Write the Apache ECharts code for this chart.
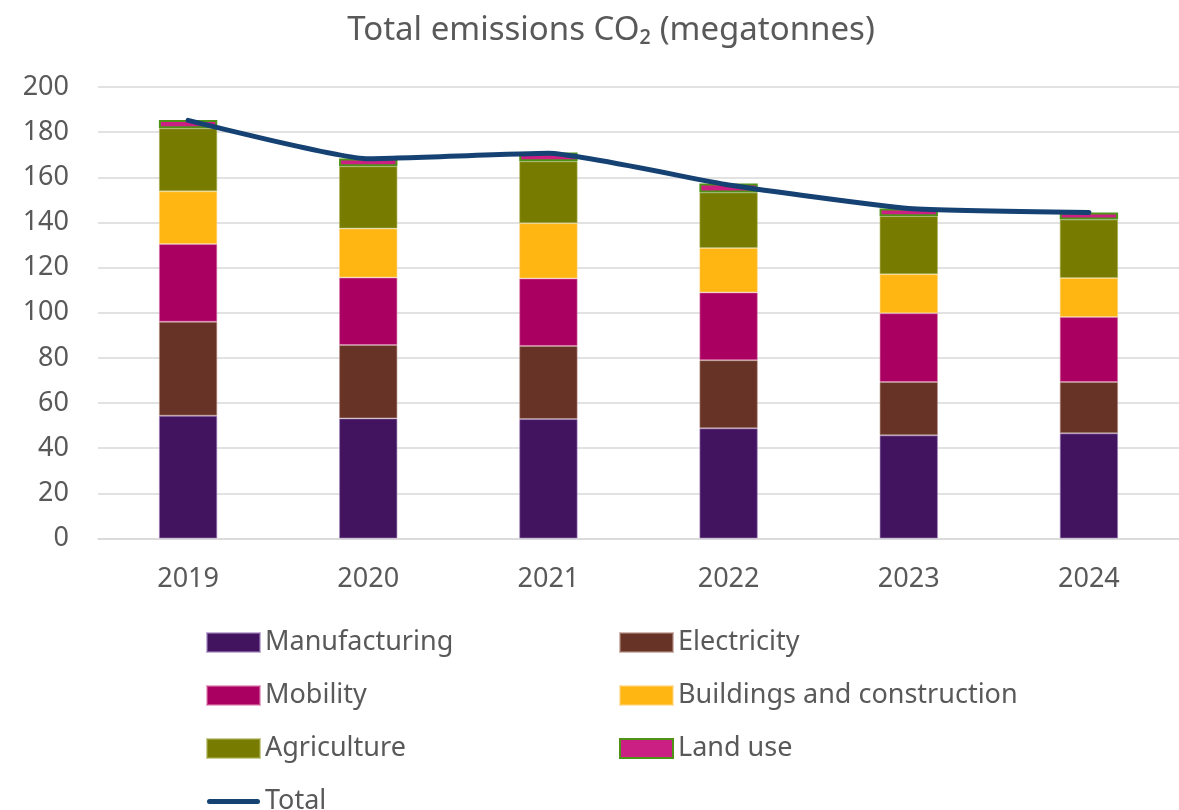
<!DOCTYPE html>
<html>
<head>
<meta charset="utf-8">
<script src="https://cdn.jsdelivr.net/npm/echarts@6/dist/echarts.min.js"></script>
<style>
html,body{margin:0;padding:0;background:#fff;}
#chart{width:1179px;height:810px;}
</style>
</head>
<body>
<div id="chart"></div>
<script>
var years = ['2019', '2020', '2021', '2022', '2023', '2024'];
var manufacturing = [54.4, 53.2, 52.9, 48.8, 45.7, 46.6];
var electricity   = [41.6, 32.5, 32.4, 30.2, 23.6, 22.7];
var mobility      = [34.4, 29.9, 29.9, 30.0, 30.5, 28.8];
var buildings     = [23.4, 21.7, 24.5, 19.7, 17.3, 17.3];
var agriculture   = [27.9, 27.6, 27.4, 24.6, 25.7, 25.9];
var landUse       = [3.7, 3.4, 3.9, 3.9, 3.4, 3.1];
var total         = [185.2, 168.2, 170.6, 156.6, 146.2, 144.4];
var yTicks = [0, 20, 40, 60, 80, 100, 120, 140, 160, 180, 200];

var FONT = 'Noto Sans';
var TXT = '#595959';
var LINE_ICON = 'path://M2.5,0 L50.5,0 A2.5,2.5 0 0 1 50.5,5 L2.5,5 A2.5,2.5 0 0 1 2.5,0 Z';

function barSeries(name, data, color, border, bw) {
  return {
    name: name, type: 'bar', stack: 'co2', data: data,
    barWidth: '32.4%',
    itemStyle: { color: color, borderColor: border, borderWidth: bw },
    emphasis: { disabled: true }
  };
}

var legendCommon = {
  orient: 'vertical', top: 624, itemGap: 26, height: 220,
  itemWidth: 53, itemHeight: 19, icon: 'rect',
  symbolKeepAspect: true,
  textStyle: { fontFamily: FONT, fontSize: 27, color: TXT },
  selectedMode: false
};

var chart = echarts.init(document.getElementById('chart'));
chart.setOption({
  animation: false,
  backgroundColor: '#fff',
  title: {
    text: 'Total emissions CO\u2082 (megatonnes)',
    left: 606, top: 9, textAlign: 'center',
    textStyle: { fontFamily: FONT, fontSize: 33, fontWeight: 'normal', color: TXT }
  },
  grid: { left: 98, top: 87, width: 1092, height: 451.5 },
  xAxis: {
    type: 'category', data: years,
    axisTick: { show: false },
    axisLine: { lineStyle: { color: '#d9d9d9', width: 1.5 } },
    axisLabel: { fontFamily: FONT, fontSize: 27, color: TXT, margin: 27 }
  },
  yAxis: {
    type: 'value', min: yTicks[0], max: yTicks[yTicks.length - 1], interval: yTicks[1] - yTicks[0],
    axisLine: { show: false }, axisTick: { show: false },
    splitLine: { lineStyle: { color: '#d9d9d9', width: 1.5 } },
    axisLabel: { fontFamily: FONT, fontSize: 27, color: TXT, margin: 29 }
  },
  legend: [
    Object.assign({}, legendCommon, {
      left: 201,
      data: ['Manufacturing', 'Mobility', 'Agriculture', { name: 'Total', icon: LINE_ICON }]
    }),
    Object.assign({}, legendCommon, {
      left: 614,
      data: ['Electricity', 'Buildings and construction', 'Land use']
    })
  ],
  series: [
    barSeries('Manufacturing', manufacturing, '#42145f', 'rgba(160,130,190,0.6)', 1),
    barSeries('Electricity', electricity, '#673327', 'rgba(180,140,130,0.6)', 1),
    barSeries('Mobility', mobility, '#a90061', 'rgba(220,120,170,0.6)', 1),
    barSeries('Buildings and construction', buildings, '#ffb612', 'rgba(255,210,120,0.6)', 1),
    barSeries('Agriculture', agriculture, '#777c00', 'rgba(170,175,80,0.6)', 1),
    barSeries('Land use', landUse, '#cb1f84', '#4e9318', 2),
    {
      name: 'Total', type: 'line', data: total, smooth: 0.15,
      symbol: 'none', z: 5,
      lineStyle: { color: '#154273', width: 5, cap: 'round', join: 'round' },
      itemStyle: { color: '#154273' },
      emphasis: { disabled: true }
    }
  ]
});
</script>
</body>
</html>
